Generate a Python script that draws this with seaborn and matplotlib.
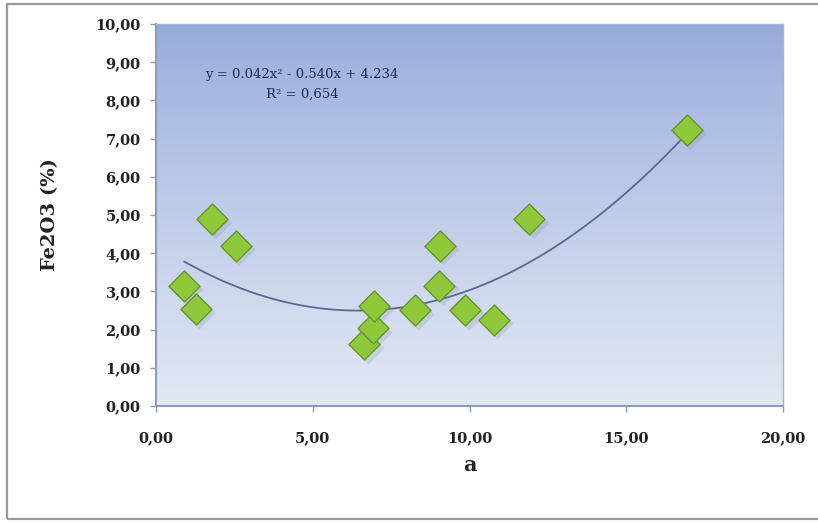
import numpy as np
import pandas as pd
import matplotlib
matplotlib.use("Agg")
import matplotlib.pyplot as plt
from matplotlib.patches import Rectangle
from matplotlib.ticker import FuncFormatter, MultipleLocator
import seaborn as sns

# Sample measurements
a_values = [0.90, 1.27, 1.78, 2.55, 6.65, 6.93, 6.95, 8.26, 9.04, 9.06, 9.87, 10.78, 11.91, 16.93]
fe2o3_values = [3.15, 2.54, 4.90, 4.20, 1.62, 2.04, 2.62, 2.52, 3.15, 4.20, 2.52, 2.26, 4.90, 7.22]

# Quadratic trend line coefficients (x², x, constant) and fit quality
trend_coefs = [0.042, -0.540, 4.234]
r_squared = 0.654

sns.set_theme(style="white")
plt.rcParams["font.family"] = ["DejaVu Serif"]

fig = plt.figure(figsize=(8.18, 5.22), dpi=100)
fig.patch.set_facecolor("white")

# Chart-area frame
fig.add_artist(Rectangle((7 / 818, 3 / 522), 815 / 818, 515 / 522,
                         transform=fig.transFigure, fill=False,
                         edgecolor="#9a9a9a", linewidth=1.6))

ax = fig.add_axes([156 / 818, 116 / 522, 627 / 818, 382 / 522])

# Vertical gradient in the plot area (row 0 = top)
grad = np.linspace(0, 1, 256).reshape(-1, 1)
top = np.array([0x96, 0xab, 0xdc]) / 255
bottom = np.array([0xe2, 0xe8, 0xf4]) / 255
img = top + (bottom - top) * grad[..., None] ** 0.85
img = img.reshape(256, 1, 3)
ax.imshow(img, extent=[0, 20, 0, 10], origin="upper", aspect="auto",
          zorder=0, interpolation="bicubic")
ax.set_xlim(0, 20)
ax.set_ylim(0, 10)

df = pd.DataFrame({"a": a_values, "Fe2O3": fe2o3_values})

# Trend curve over the range of the data
xs = np.linspace(min(a_values), max(a_values), 200)
ys = np.polyval(trend_coefs, xs)
sns.lineplot(x=xs, y=ys, ax=ax, color="#5a6a8c", linewidth=1.3, zorder=3)

# Soft shadow under markers
ax.scatter(np.array(a_values) + 0.10, np.array(fe2o3_values) - 0.10, marker="D",
           s=270, color="#7d8fa8", alpha=0.22, linewidths=0, zorder=3.5)
sns.scatterplot(data=df, x="a", y="Fe2O3", ax=ax, marker="D", s=250,
                color="#90c83c", edgecolor="#66962a", linewidth=1.0, zorder=4)

ax.xaxis.set_major_locator(MultipleLocator(5))
ax.yaxis.set_major_locator(MultipleLocator(1))
fmt = FuncFormatter(lambda v, p: f"{v:.2f}".replace(".", ","))
ax.xaxis.set_major_formatter(fmt)
ax.yaxis.set_major_formatter(fmt)
ax.tick_params(axis="both", which="major", direction="out", length=4,
               color="#8a9ab8", width=1, labelsize=10.5, pad=7,
               bottom=True, left=True)
ax.tick_params(axis="x", pad=14)
for lab in ax.get_xticklabels() + ax.get_yticklabels():
    lab.set_fontweight("bold")
    lab.set_color("#222222")

for side in ["left", "bottom"]:
    ax.spines[side].set_color("#8d9cb8")
    ax.spines[side].set_linewidth(1.5)
for side in ["top", "right"]:
    ax.spines[side].set_color("#a5b4d0")
    ax.spines[side].set_linewidth(1.0)

ax.set_xlabel("a", fontsize=15, fontweight="bold", labelpad=7, color="#222222")
ax.set_ylabel("Fe2O3 (%)", fontsize=14, fontweight="bold", labelpad=26, color="#222222")

eq_text = "y = 0.042x² - 0.540x + 4.234\nR² = 0,654"
ax.text(4.66, 8.42, eq_text, ha="center", va="center", fontsize=9.5,
        color="#1f2a50", linespacing=1.75, zorder=5)

fig.savefig("out.png", dpi=100)
